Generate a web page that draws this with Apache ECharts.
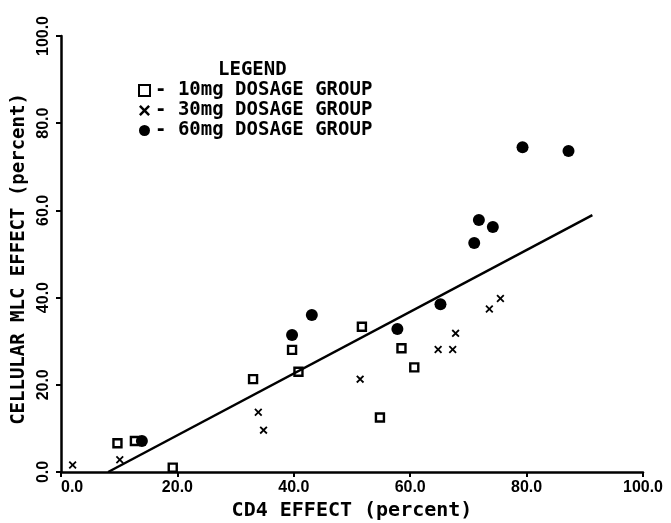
<!DOCTYPE html>
<html>
<head>
<meta charset="utf-8">
<script src="https://cdn.jsdelivr.net/npm/echarts@6/dist/echarts.min.js"></script>
<style>html,body{margin:0;padding:0;background:#fff}#c{width:671px;height:523px}</style>
</head>
<body>
<div id="c"></div>
<script>
// ---- data ----
const group10X = [9.7, 12.7, 19.2, 33.0, 39.7, 40.8, 51.7, 54.8, 58.5, 60.7];
const group10Y = [6.6, 7.1, 1.0, 21.3, 28.0, 23.0, 33.3, 12.5, 28.4, 24.0];
const group30X = [2.0, 10.1, 33.9, 34.8, 51.4, 64.8, 67.3, 67.8, 73.6, 75.5];
const group30Y = [1.6, 2.8, 13.7, 9.6, 21.3, 28.1, 28.1, 31.8, 37.4, 39.8];
const group60X = [13.9, 39.7, 43.1, 57.8, 65.2, 71.0, 71.8, 74.2, 79.3, 87.2];
const group60Y = [7.1, 31.4, 36.0, 32.8, 38.5, 52.5, 57.8, 56.2, 74.5, 73.6];
const fitX = [8.1, 91.3];
const fitY = [0, 58.9];
const seriesNames = ['10mg DOSAGE GROUP', '30mg DOSAGE GROUP', '60mg DOSAGE GROUP'];
const xTitle = 'CD4 EFFECT (percent)';
const yTitle = 'CELLULAR MLC EFFECT (percent)';
const legendTitle = 'LEGEND';

const zip = (a, b) => a.map((v, i) => [v, b[i]]);
const MONO = '"DejaVu Sans Mono", monospace';
const crossPath = 'path://M0,1.6L1.6,0L5,3.4L8.4,0L10,1.6L6.6,5L10,8.4L8.4,10L5,6.6L1.6,10L0,8.4L3.4,5Z';

const chart = echarts.init(document.getElementById('c'), null, {renderer: 'canvas'});
chart.setOption({
  animation: false,
  backgroundColor: '#fff',
  grid: {left: 61, right: 28, top: 36, bottom: 51, containLabel: false, outerBoundsMode: 'none'},
  graphic: [{
    type: 'text', left: 218, top: 61,
    style: {text: legendTitle, font: 'bold 19px ' + MONO, fill: '#000'}
  }],
  legend: {
    data: seriesNames,
    orient: 'vertical',
    left: 138, top: 81,
    itemWidth: 11, itemHeight: 11,
    itemGap: 1,
    padding: 0,
    formatter: '- {name}',
    textStyle: {fontFamily: MONO, fontWeight: 'bold', fontSize: 19, color: '#000', lineHeight: 19}
  },
  xAxis: {
    type: 'value', min: 0, max: 100, interval: 20,
    name: xTitle, nameLocation: 'middle', nameGap: 27,
    nameTextStyle: {fontFamily: MONO, fontWeight: 'bold', fontSize: 20, color: '#000'},
    axisLine: {lineStyle: {color: '#000', width: 2.5}},
    axisTick: {show: true, length: 5, inside: false, lineStyle: {color: '#000', width: 2}},
    splitLine: {show: false},
    axisLabel: {
      margin: 8, color: '#000', fontFamily: 'Liberation Sans', fontWeight: 'bold', fontSize: 16,
      formatter: v => v.toFixed(1), alignMinLabel: 'left'
    }
  },
  yAxis: {
    type: 'value', min: 0, max: 100, interval: 20,
    name: yTitle, nameLocation: 'middle', nameGap: 25, nameRotate: 90,
    nameTextStyle: {fontFamily: MONO, fontWeight: 'bold', fontSize: 19, color: '#000', padding: [0, 10, 0, 0]},
    axisLine: {lineStyle: {color: '#000', width: 2.5}},
    axisTick: {show: true, length: 5, inside: false, lineStyle: {color: '#000', width: 2}},
    splitLine: {show: false},
    axisLabel: {
      rotate: 90, margin: 9, color: '#000', fontFamily: 'Liberation Sans', fontWeight: 'bold', fontSize: 16,
      formatter: v => v.toFixed(1)
    }
  },
  series: [
    {
      name: seriesNames[0], type: 'scatter', data: zip(group10X, group10Y),
      symbol: 'rect', symbolSize: 8,
      itemStyle: {color: '#fff', borderColor: '#000', borderWidth: 2.4, opacity: 1}
    },
    {
      name: seriesNames[1], type: 'scatter', data: zip(group30X, group30Y),
      symbol: crossPath, symbolSize: 8,
      itemStyle: {color: '#000', opacity: 1}
    },
    {
      name: seriesNames[2], type: 'scatter', data: zip(group60X, group60Y),
      symbol: 'circle', symbolSize: 12,
      itemStyle: {color: '#000', opacity: 1}
    },
    {
      name: 'fit', type: 'line', data: zip(fitX, fitY),
      symbol: 'none', silent: true,
      lineStyle: {color: '#000', width: 2.5}
    }
  ]
});
</script>
</body>
</html>
